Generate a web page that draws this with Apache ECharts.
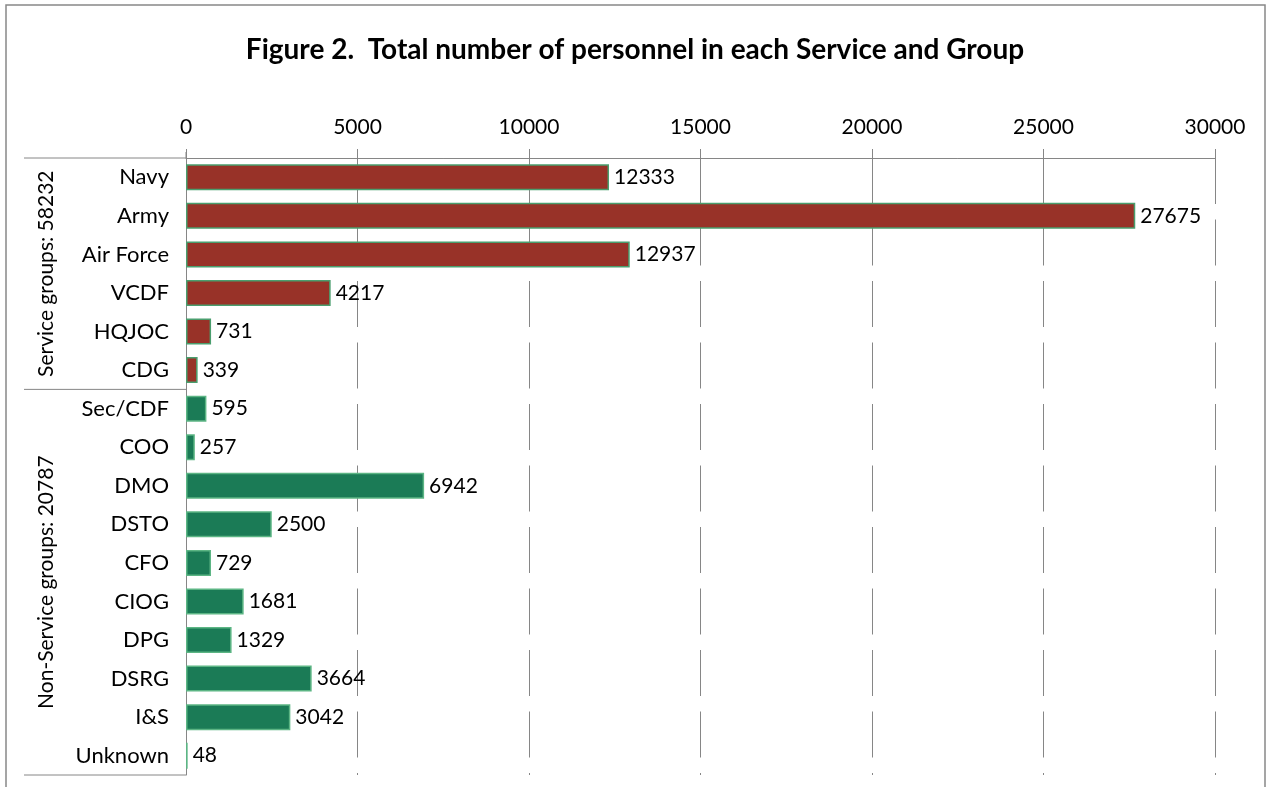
<!DOCTYPE html>
<html>
<head>
<meta charset="utf-8">
<script src="https://cdn.jsdelivr.net/npm/echarts@6/dist/echarts.min.js"></script>
<style>
  html, body { margin: 0; padding: 0; background: #fff; }
  #main { width: 1270px; height: 787px; }
</style>
</head>
<body>
<div id="main"></div>
<script>
// data
var serviceNames = ['Navy', 'Army', 'Air Force', 'VCDF', 'HQJOC', 'CDG'];
var serviceValues = [12333, 27675, 12937, 4217, 731, 339];
var nonServiceNames = ['Sec/CDF', 'COO', 'DMO', 'DSTO', 'CFO', 'CIOG', 'DPG', 'DSRG', 'I&S', 'Unknown'];
var nonServiceValues = [595, 257, 6942, 2500, 729, 1681, 1329, 3664, 3042, 48];
var groupLabels = ['Service groups: 58232', 'Non-Service groups: 20787'];
var xTicks = [0, 5000, 10000, 15000, 20000, 25000, 30000];

var FONT = 'Lato, "Open Sans", sans-serif';
var gridLeft = 186, gridTop = 158, gridH = 617, gridRight = 55;
var band = gridH / (serviceNames.length + nonServiceNames.length);
var sepY = gridTop + band * serviceNames.length;
var bottomY = gridTop + gridH;

var categories = serviceNames.concat(nonServiceNames);
var barData = [];
serviceValues.forEach(function (v) {
  barData.push({ value: v, itemStyle: { color: '#983228', borderColor: '#4a9e6e' } });
});
nonServiceValues.forEach(function (v) {
  barData.push({ value: v, itemStyle: { color: '#1b7b56', borderColor: '#5cb584' } });
});

var chart = echarts.init(document.getElementById('main'));
var option = {
  animation: false,
  backgroundColor: '#fff',
  title: {
    text: 'Figure 2.  Total number of personnel in each Service and Group',
    left: 'center',
    top: 31,
    textStyle: { fontFamily: FONT, fontSize: 28, fontWeight: 'bold', color: '#000' }
  },
  grid: { left: gridLeft, right: gridRight, top: gridTop, height: gridH },
  xAxis: {
    type: 'value',
    position: 'top',
    min: xTicks[0],
    max: xTicks[xTicks.length - 1],
    interval: xTicks[1] - xTicks[0],
    axisLine: { show: true, lineStyle: { color: '#868686', width: 1 } },
    axisTick: { show: true, length: 9, lineStyle: { color: '#868686' } },
    axisLabel: {
      fontFamily: FONT, fontSize: 21, color: '#000', margin: 20,
      formatter: function (v) { return String(v); }
    },
    splitLine: { show: true, lineStyle: { color: '#868686', type: [46, 15.5], width: 1 } }
  },
  yAxis: {
    type: 'category',
    inverse: true,
    data: categories,
    axisLine: { show: true, lineStyle: { color: '#868686' } },
    axisTick: { show: false },
    axisLabel: { fontFamily: FONT, fontSize: 22, color: '#000', margin: 17 }
  },
  series: [{
    type: 'bar',
    data: barData,
    barWidth: 26,
    itemStyle: { borderWidth: 1.5 },
    label: {
      show: true,
      position: 'right',
      distance: 5,
      fontFamily: FONT,
      fontSize: 21,
      color: '#000'
    }
  }],
  graphic: [
    { type: 'rect', shape: { x: 6, y: 5, width: 1259, height: 800 }, style: { fill: null, stroke: '#888', lineWidth: 1.5 }, silent: true },
    { type: 'line', shape: { x1: 24, y1: gridTop, x2: gridLeft, y2: gridTop }, style: { stroke: '#868686', lineWidth: 1 } },
    { type: 'line', shape: { x1: 24, y1: sepY, x2: gridLeft, y2: sepY }, style: { stroke: '#868686', lineWidth: 1 } },
    { type: 'line', shape: { x1: 24, y1: bottomY, x2: gridLeft, y2: bottomY }, style: { stroke: '#868686', lineWidth: 1 } },
    { type: 'line', shape: { x1: gridLeft, y1: gridTop - 6, x2: gridLeft, y2: gridTop }, style: { stroke: '#868686', lineWidth: 1 } },
    {
      type: 'text', x: 46, y: (gridTop + sepY) / 2, rotation: Math.PI / 2,
      style: { text: groupLabels[0], font: '21px ' + FONT, fill: '#000', align: 'center', verticalAlign: 'middle' }
    },
    {
      type: 'text', x: 46, y: (sepY + bottomY) / 2, rotation: Math.PI / 2,
      style: { text: groupLabels[1], font: '21px ' + FONT, fill: '#000', align: 'center', verticalAlign: 'middle' }
    }
  ]
};
chart.setOption(option);
</script>
</body>
</html>
